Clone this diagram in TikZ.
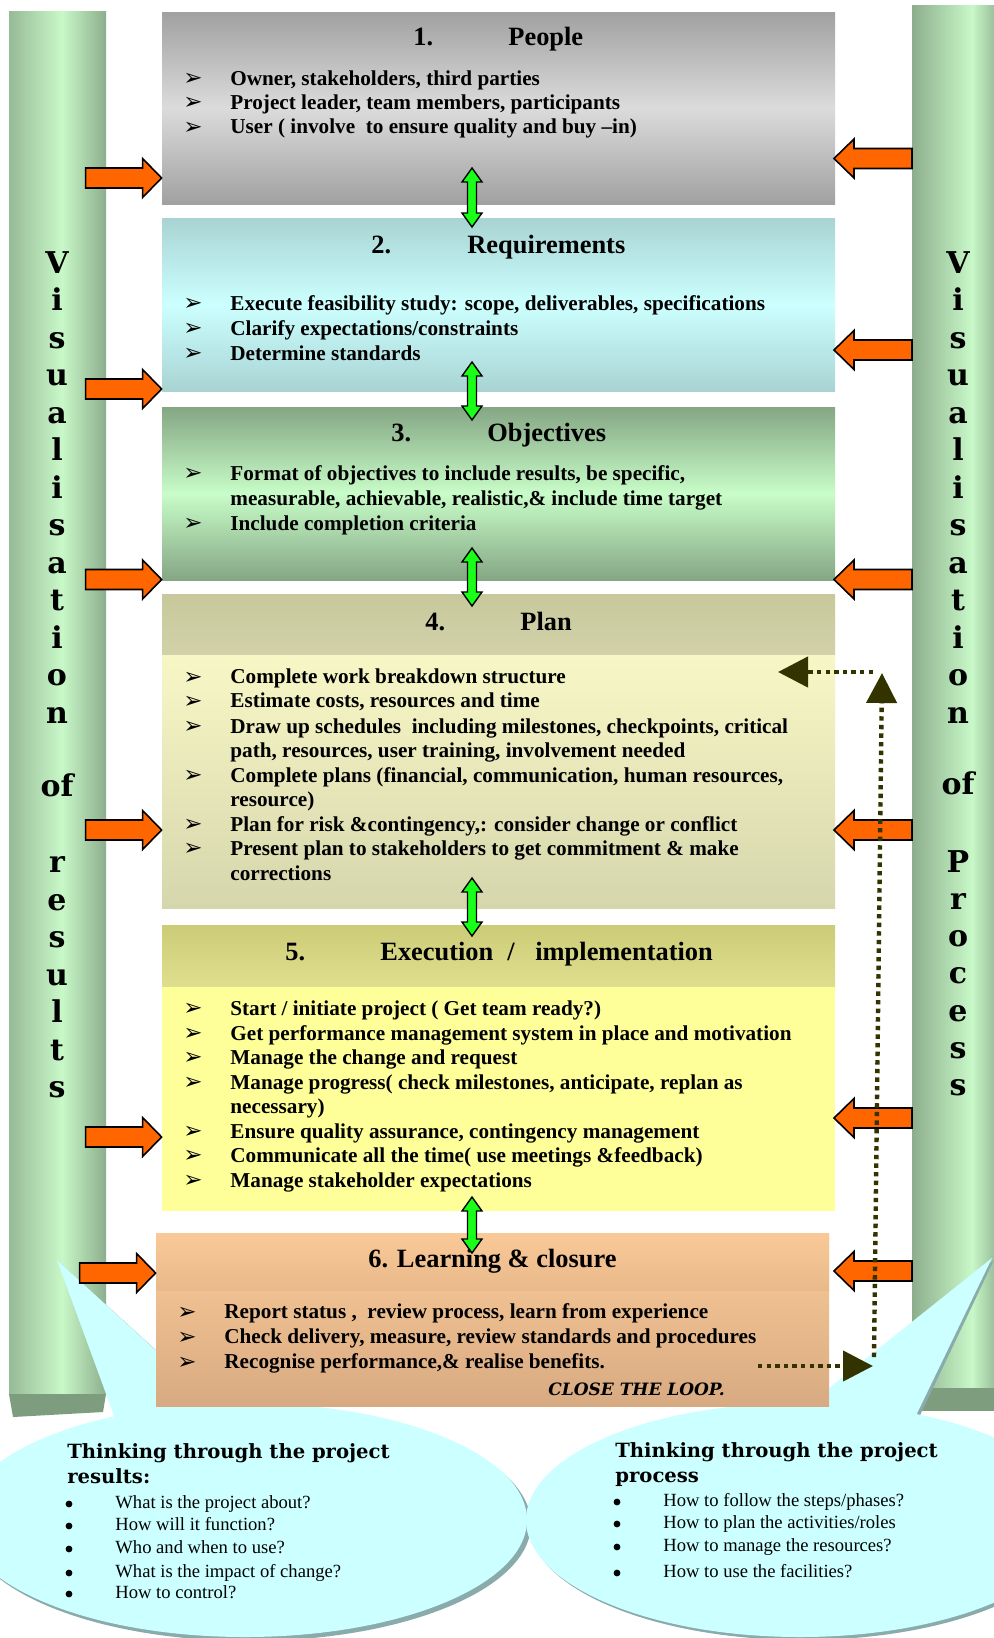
\documentclass[tikz,border=0pt]{standalone}
\usepackage{fontspec}
\setmainfont{Liberation Serif}
\newfontfamily\slab{DejaVu Serif}
\newfontfamily\dsans{DejaVu Sans}
\usetikzlibrary{arrows.meta,calc}
\definecolor{orangeA}{HTML}{FF6600}
\definecolor{greenA}{HTML}{1AFF1A}
\definecolor{loopc}{HTML}{333300}
\definecolor{bubble}{HTML}{CCFFFF}
\definecolor{bubsh}{HTML}{8AABAB}
\definecolor{plight}{HTML}{C8F8C8}
\definecolor{pdarkL}{HTML}{97BA97}
\definecolor{pdarkR}{HTML}{8DAE8D}
\definecolor{pbase}{HTML}{7E9C7E}
\newcommand\bodyfont{\fontsize{10.6}{12.25}\selectfont\bfseries}
\newcommand\titlefont{\fontsize{13.2}{15}\selectfont\bfseries}
\newcommand\bubfont{\fontsize{9.3}{11}\selectfont}
\newcommand\bubhead{\slab\fontsize{9.8}{11}\selectfont\bfseries}
\newcommand\pilfont{\slab\fontsize{15}{17}\selectfont\bfseries}
\tikzset{
  txt/.style={anchor=base west, inner sep=0pt, font=\bodyfont},
  ttl/.style={anchor=base west, inner sep=0pt, font=\titlefont},
  mk/.style={anchor=base west, inner sep=0pt, font=\dsans\fontsize{11.5}{12}\selectfont},
  btxt/.style={anchor=base west, inner sep=0pt, font=\bubfont},
  bdot/.style={circle, fill=black, inner sep=0pt, minimum size=3.4pt},
  bhd/.style={anchor=base west, inner sep=0pt, font=\bubhead},
  pil/.style={anchor=base, inner sep=0pt, font=\pilfont},
  box/.style={inner sep=0pt, minimum width=336.5pt, draw=none},
  oarr/.style={draw=black, fill=orangeA, line width=0.8pt, line join=miter},
  garr/.style={draw=black, fill=greenA, line width=0.7pt, line join=miter},
  loopln/.style={draw=loopc, line width=2.2pt, dash pattern=on 2.2pt off 2.1pt,
     -{Triangle[length=15pt,width=15pt]}},
}
\newcommand\bl[4][230]{\node[mk] (#2m) at ({#1-47},{#3+0.5}) {➢};\node[txt] (#2) at (#1,#3) {#4};}
\newcommand\cl[3]{\node[txt] (#1) at (230,#2) {#3};}
\newcommand\oright[2]{\coordinate (#1) at (#2);
  \draw[oarr] (#1) -- ++(-19,-19.5) -- ++(0,9.5) -- ++(-57,0) -- ++(0,20) -- ++(57,0) -- ++(0,9.5) -- cycle;}
\newcommand\oleft[2]{\coordinate (#1) at (#2);
  \draw[oarr] (#1) -- ++(20,-19.5) -- ++(0,9.5) -- ++(58,0) -- ++(0,20) -- ++(-58,0) -- ++(0,9.5) -- cycle;}
\newcommand\garrow[2]{\draw[garr] (#1) -- ++(10,14) -- ++(-5.5,0) -- ($(#2)+(4.5,-14)$) -- ++(5.5,0) -- (#2)
  -- ++(-10,-14) -- ++(5.5,0) -- ($(#1)+(-4.5,14)$) -- ++(-5.5,0) -- cycle;}
\newcommand\bq[4]{\node[bdot] (#1m) at ({#2-46},{#3-4}) {};\node[btxt] (#1) at (#2,#3) {#4};}
\begin{document}
\begin{tikzpicture}[x=0.5pt,y=-0.5pt]
\useasboundingbox (0,0) rectangle (994,1638);
\fill[white] (0,0) rectangle (994,1638);
% pillars
\shade[left color=pdarkL, right color=plight] (9,11) rectangle (62,1394);
\shade[left color=plight, right color=pdarkR] (62,11) rectangle (106,1394);
\fill[pbase] (9,1394) -- (106,1394) -- (103,1412) -- (13,1417) -- cycle;
\shade[left color=pdarkR, right color=plight] (912,5) rectangle (972,1388);
\shade[left color=plight, right color=pdarkL!90!plight] (972,5) rectangle (994,1388);
\fill[pbase] (912,1388) rectangle (994,1411);
% bubbles
\fill[bubsh] (249,1524) ellipse [x radius=282, y radius=117];
\fill[bubsh] (803,1523) ellipse [x radius=274, y radius=117];
\fill[bubsh] (59,1262) -- (123,1434) -- (248,1434) -- cycle;
\fill[bubsh] (994,1260) -- (913,1430) -- (780,1430) -- cycle;
\fill[bubble] (245,1520) ellipse [x radius=282, y radius=117];
\fill[bubble] (800,1520) ellipse [x radius=274, y radius=117];
\fill[bubble] (57,1260) -- (120,1432) -- (245,1432) -- cycle;
\fill[bubble] (992,1258) -- (910,1428) -- (779,1428) -- cycle;
% boxes
\node[box, minimum height=96pt, top color=black!37, bottom color=black!37, middle color=black!14] (B1) at (498.5,108) {};
\node[box, minimum height=86.5pt, top color={rgb,255:red,169;green,211;blue,211}, bottom color={rgb,255:red,169;green,211;blue,211}, middle color={rgb,255:red,204;green,255;blue,255}] (B2) at (498.5,304.5) {};
\node[box, minimum height=86.5pt, top color={rgb,255:red,132;green,166;blue,132}, bottom color={rgb,255:red,132;green,166;blue,132}, middle color={rgb,255:red,200;green,252;blue,200}] (B3) at (498.5,493.5) {};
\node[box, minimum height=157pt, top color={rgb,255:red,255;green,255;blue,204}, bottom color={rgb,255:red,214;green,214;blue,173}] (B4) at (498.5,751) {};
\node[box, minimum height=30pt, anchor=north, top color={rgb,255:red,200;green,200;blue,156}, bottom color={rgb,255:red,210;green,210;blue,170}] (B4h) at (B4.north) {};
\node[box, minimum height=143pt, fill={rgb,255:red,255;green,255;blue,153}] (B5) at (498.5,1068) {};
\node[box, minimum height=30.5pt, anchor=north, top color={rgb,255:red,204;green,204;blue,119}, bottom color={rgb,255:red,222;green,222;blue,142}] (B5h) at (B5.north) {};
\node[box, minimum height=86.5pt, top color={rgb,255:red,251;green,203;blue,152}, bottom color={rgb,255:red,216;green,170;blue,130}] (B6) at (492.5,1319.5) {};
\node[box, minimum height=28.5pt, anchor=north, top color={rgb,255:red,250;green,201;blue,152}, bottom color={rgb,255:red,233;green,185;blue,138}] (B6h) at (B6.north) {};
% titles
\node[ttl] (t1n) at (413,46) {1.};
\node[ttl] (t1) at (508,46) {People};
\node[ttl] (t2n) at (371,253) {2.};
\node[ttl] (t2) at (467,253) {Requirements};
\node[ttl] (t3n) at (391,441.7) {3.};
\node[ttl] (t3) at (487,441.7) {Objectives};
\node[ttl] (t4n) at (425,630) {4.};
\node[ttl] (t4) at (520,630) {Plan};
\node[ttl] (t5n) at (285,960) {5.};
\node[ttl] (t5a) at (380,960) {Execution};
\node[ttl] (t5b) at (507,960) {/};
\node[ttl] (t5c) at (535,960) {implementation};
\node[ttl] (t6) at (368,1267) {6. Learning \& closure};
% box texts
\bl{a1}{85}{Owner, stakeholders, third parties}
\bl{a2}{109.3}{Project leader, team members, participants}
\bl{a3}{133.6}{User ( involve~ to ensure quality and buy –in)}
\bl{b1}{310}{Execute feasibility study: scope, deliverables, specifications}
\bl{b2}{335}{Clarify expectations/constraints}
\bl{b3}{360}{Determine standards}
\bl{c1}{480.3}{Format of objectives to include results, be specific,}
\cl{c1b}{505.3}{measurable, achievable, realistic,\& include time target}
\bl{c2}{530.4}{Include completion criteria}
\bl{d1}{683.9}{Complete work breakdown structure}
\bl{d2}{707.9}{Estimate costs, resources and time}
\bl{d3}{733}{Draw up schedules~ including milestones, checkpoints, critical}
\cl{d3b}{757}{path, resources, user training, involvement needed}
\bl{d4}{782}{Complete plans (financial, communication, human resources,}
\cl{d4b}{806}{resource)}
\bl{d5}{831}{Plan for risk \&contingency,: consider change or conflict}
\bl{d6}{855}{Present plan to stakeholders to get commitment \& make}
\cl{d6b}{880}{corrections}
\bl{e1}{1015}{Start / initiate project ( Get team ready?)}
\bl{e2}{1040}{Get performance management system in place and motivation}
\bl{e3}{1064}{Manage the change and request}
\bl{e4}{1089}{Manage progress( check milestones, anticipate, replan as}
\cl{e4b}{1113}{necessary)}
\bl{e5}{1138}{Ensure quality assurance, contingency management}
\bl{e6}{1162}{Communicate all the time( use meetings \&feedback)}
\bl{e7}{1187}{Manage stakeholder expectations}
\bl[224]{f1}{1318.7}{Report status ,~ review process, learn from experience}
\bl[224]{f2}{1343.7}{Check delivery, measure, review standards and procedures}
\bl[224]{f3}{1368.8}{Recognise performance,\& realise benefits.}
\node[anchor=base west, inner sep=0pt, font=\slab\fontsize{8.5}{10}\selectfont\bfseries\itshape] (cl) at (548,1395) {CLOSE THE LOOP.};
% pillar letters
\foreach[count=\i] \c in {V,i,s,u,a,l,i,s,a,t,i,o,n}{
  \node[pil] (lv\i) at (57,{273+37.5*(\i-1)}) {\c};
  \node[pil] (rv\i) at (958,{273+37.5*(\i-1)}) {\c};}
\node[pil] (lof) at (57,796) {of};
\node[pil] (rof) at (958,794) {of};
\foreach[count=\i] \c in {r,e,s,u,l,t,s}{
  \node[pil] (lr\i) at (57,{872.5+37.5*(\i-1)}) {\c};}
\foreach[count=\i] \c in {P,r,o,c,e,s,s}{
  \node[pil] (rp\i) at (958,{872+37.3*(\i-1)}) {\c};}
% bubble texts
\node[bhd] (h1a) at (67,1458) {Thinking through the project};
\node[bhd] (h1b) at (67,1483) {results:};
\bq{q1}{115}{1508}{What is the project about?}
\bq{q2}{115}{1530}{How will it function?}
\bq{q3}{115}{1553}{Who and when to use?}
\bq{q4}{115}{1577}{What is the impact of change?}
\bq{q5}{115}{1598}{How to control?}
\node[bhd] (h2a) at (615,1457) {Thinking through the project};
\node[bhd] (h2b) at (615,1482) {process};
\bq{p1}{663}{1506}{How to follow the steps/phases?}
\bq{p2}{663}{1528}{How to plan the activities/roles}
\bq{p3}{663}{1551}{How to manage the resources?}
\bq{p4}{663}{1577}{How to use the facilities?}
% orange arrows
\oright{la1}{B1.west |- 0,178}
\oright{la2}{B2.west |- 0,389}
\oright{la3}{B3.west |- 0,579.5}
\oright{la4}{B4.west |- 0,830}
\oright{la5}{B5.west |- 0,1137}
\oright{la6}{B6.west |- 0,1273}
\oleft{ra1}{834,158.5}
\oleft{ra2}{834,350}
\oleft{ra3}{834,579.5}
\oleft{ra4}{834,830}
\oleft{ra5}{834,1118}
\oleft{ra6}{834,1271}
% green double arrows
\coordinate (g1t) at (472,168); \coordinate (g1b) at (472,227);
\coordinate (g2t) at (472,362); \coordinate (g2b) at (472,420);
\coordinate (g3t) at (472,548); \coordinate (g3b) at (472,606);
\coordinate (g4t) at (472,878); \coordinate (g4b) at (472,936);
\coordinate (g5t) at (472,1197); \coordinate (g5b) at (472,1253);
\garrow{g1t}{g1b}
\garrow{g2t}{g2b}
\garrow{g3t}{g3b}
\garrow{g4t}{g4b}
\garrow{g5t}{g5b}
% close the loop
\coordinate (d1) at (758,1366); \coordinate (d2) at (873,1366);
\coordinate (d3) at (874,1357); \coordinate (d4) at (882,673);
\coordinate (d5) at (873,672); \coordinate (d6) at (778,672);
\draw[loopln] (d1) -- (d2);
\draw[loopln] (d3) -- (d4);
\draw[loopln] (d5) -- (d6);
\end{tikzpicture}
\end{document}
